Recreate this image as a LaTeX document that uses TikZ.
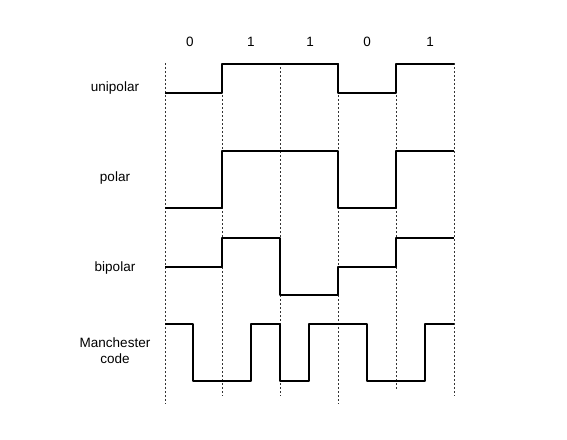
\documentclass[tikz,border=0pt]{standalone}
\usepackage{fontspec}
\setmainfont{Liberation Sans}
\begin{document}
\begin{tikzpicture}[x=1pt,y=-1pt,
  lbl/.style={font=\fontsize{13.5}{16}\selectfont, align=center, inner sep=0pt},
  wave/.style={line width=2.8pt, line join=round},
  grid/.style={line width=0.7pt, dash pattern=on 2pt off 2pt, black!80}]
\useasboundingbox (0,0) rectangle (567,439);
% dashed guide lines
\coordinate (g0t) at (165,63); \coordinate (g0b) at (165,404);
\coordinate (g1t) at (222,63); \coordinate (g1b) at (222,396);
\coordinate (g2t) at (280,63); \coordinate (g2b) at (280,396);
\coordinate (g3t) at (338,63); \coordinate (g3b) at (338,404);
\coordinate (g4t) at (396,63); \coordinate (g4b) at (396,390);
\coordinate (g5t) at (454,63); \coordinate (g5b) at (454,396);
\foreach \i in {0,...,5} \draw[grid] (g\i t) -- (g\i b);
% bit labels
\node[lbl] (b0) at (190,42) {0};
\node[lbl] (b1) at (251,42) {1};
\node[lbl] (b2) at (310,42) {1};
\node[lbl] (b3) at (367,42) {0};
\node[lbl] (b4) at (430,42) {1};
% row labels
\node[lbl] (uni) at (115,88) {unipolar};
\node[lbl] (pol) at (115,178) {polar};
\node[lbl] (bip) at (115,268) {bipolar};
\node[lbl] (man) at (115,351) {Manchester\\code};
% waveforms
\draw[wave] (165,93) -- (222,93) -- (222,64) -- (338,64) -- (338,93) -- (396,93) -- (396,64) -- (454,64);
\draw[wave] (165,208) -- (222,208) -- (222,151) -- (338,151) -- (338,208) -- (396,208) -- (396,151) -- (454,151);
\draw[wave] (165,267) -- (222,267) -- (222,238) -- (280,238) -- (280,295) -- (338,295) -- (338,267) -- (396,267) -- (396,238) -- (454,238);
\draw[wave] (165,324) -- (193,324) -- (193,381) -- (251,381) -- (251,324) -- (280,324) -- (280,381) -- (309,381) -- (309,324) -- (367,324) -- (367,381) -- (425,381) -- (425,324) -- (454,324);
\end{tikzpicture}
\end{document}
